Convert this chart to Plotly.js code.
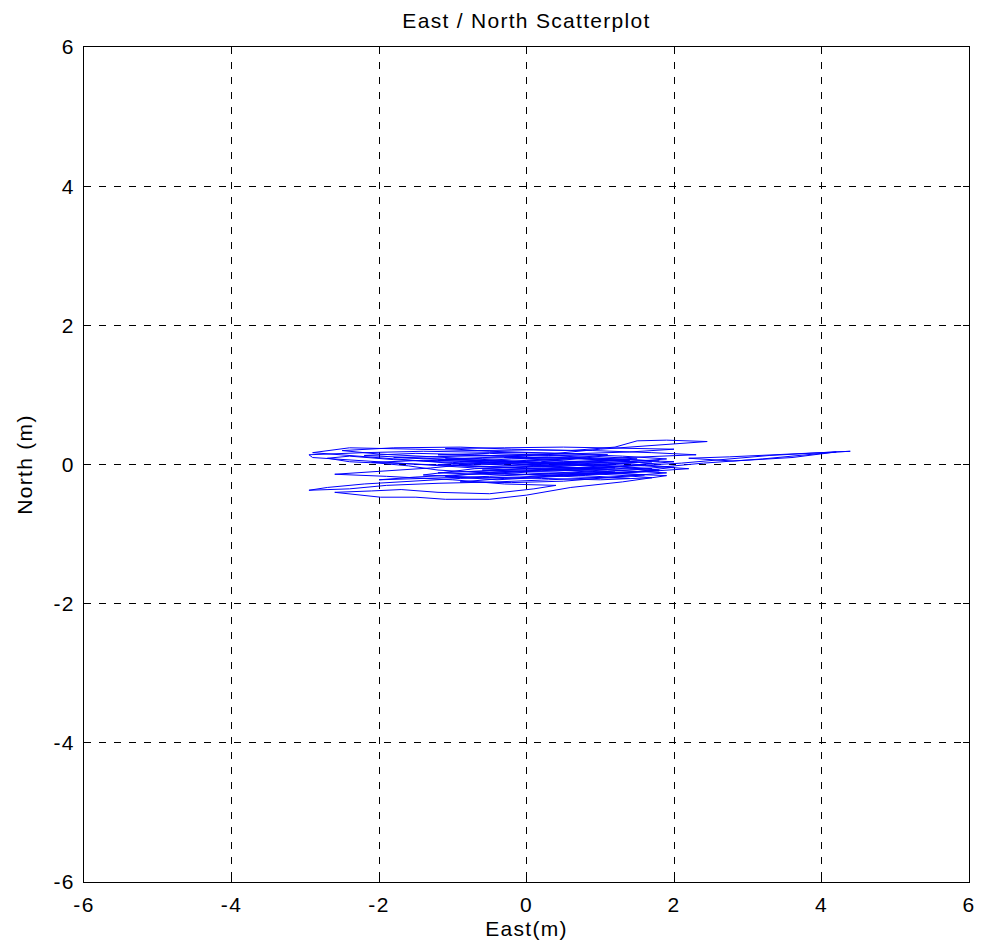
<!DOCTYPE html>
<html>
<head>
<meta charset="utf-8">
<script src="https://cdn.plot.ly/plotly-3.0.1.min.js"></script>
<style>
html,body{margin:0;padding:0;background:#fff;}
#chart text{letter-spacing:1.3px;}
</style>
</head>
<body>
<div id="chart" style="width:981px;height:946px;"></div>
<script>
const east = [0.00,0.55,1.10,0.40,-0.35,-1.20,-0.60,0.30,1.05,1.70,1.20,0.20,-0.70,-1.60,-2.30,-2.90,-2.95,-2.20,-1.40,-0.50,
0.40,1.30,1.90,1.40,0.60,-0.20,-1.00,-1.80,-2.40,-2.70,-2.40,-2.00,-1.60,-1.20,-0.40,0.50,1.30,1.80,1.10,0.20,
-0.60,-1.30,-2.00,-2.50,-1.80,-0.90,-0.20,0.60,1.20,1.50,1.90,2.45,1.80,1.00,0.30,-0.30,0.50,1.40,2.00,1.50,
0.70,-0.10,-0.90,-1.60,-2.20,-2.70,-2.95,-2.40,-1.90,-1.20,-0.40,0.30,1.00,1.60,0.90,0.10,-0.70,-1.50,-2.10,-1.40,
-0.50,0.40,1.30,2.10,2.70,3.30,4.00,4.39,3.50,2.75,2.20,2.80,3.60,4.20,3.20,2.40,1.70,0.90,0.00,-0.80,
-1.50,-2.00,-1.30,-0.50,0.30,1.10,1.70,1.00,0.20,-0.60,-1.40,-2.20,-1.50,-0.70,0.10,0.90,1.60,2.30,1.70,0.90,
0.10,-0.70,-1.50,-2.40,-2.90,-2.20,-1.40,-0.80,-1.30,-2.00,-2.60,-1.90,-1.00,-0.30,0.40,0.10,-0.50,-1.20,-1.70,-2.10,
-2.60,-1.98,-1.50,-1.10,-0.50,0.00,0.60,1.30,1.90,1.20,0.50,-0.20,-1.00,-0.30,0.50,1.30,2.00,1.30,0.60,-0.10,
-0.80,-0.10,0.70,1.40,0.80,0.00,-0.60,0.20,1.00,1.80,1.10,0.30,-0.40,-1.10,-0.40,0.40,1.20,0.50,-0.30,-1.10,
-0.30,0.60,1.40,0.70,0.00,
0.80,1.50,0.90,0.00,-0.90,-1.80,-1.10,-0.20,0.70,1.60,2.20,1.50,0.60,-0.30,-1.20,-0.50,0.40,1.20,1.70,1.00,
0.20,-0.60,-1.40,-0.70,0.20,1.10,1.80,1.10,0.30,-0.50,-1.20,-0.40,0.50,1.40,2.00,1.30,0.50,-0.30,-1.10,-0.50,
0.30,1.10,0.40,-0.40,-1.20,-0.60,0.30,1.10,1.90,1.30,0.50,-0.20,-0.90,-0.30,0.50,1.20,0.60,-0.10,-0.90,-0.20,
0.70,1.50,0.90,0.10,-0.70,0.00,0.80,0.20];
const north = [0.00,-0.03,-0.07,-0.04,0.02,0.06,0.09,0.11,0.06,0.02,-0.04,-0.09,-0.05,0.01,0.06,0.10,0.14,0.17,0.19,0.18,
0.16,0.12,0.08,0.04,0.02,-0.01,0.03,0.07,0.12,0.09,0.04,0.02,-0.02,-0.08,-0.13,-0.16,-0.12,-0.08,-0.02,0.03,
0.07,0.11,0.15,0.20,0.24,0.25,0.22,0.20,0.25,0.34,0.35,0.33,0.28,0.22,0.15,0.10,0.05,0.01,-0.04,-0.10,
-0.14,-0.18,-0.20,-0.24,-0.28,-0.33,-0.37,-0.35,-0.30,-0.27,-0.25,-0.22,-0.19,-0.15,-0.10,-0.06,-0.03,0.00,0.03,0.06,
0.04,0.00,-0.03,0.02,0.08,0.13,0.17,0.19,0.14,0.11,0.09,0.05,0.10,0.18,0.08,0.02,-0.05,-0.08,-0.10,-0.14,
-0.18,-0.22,-0.20,-0.17,-0.13,-0.10,-0.06,-0.01,0.02,0.05,0.09,0.13,0.16,0.14,0.10,0.08,0.11,0.14,0.17,0.20,
0.21,0.20,0.22,0.24,0.17,0.11,0.05,0.00,-0.05,-0.10,-0.14,-0.17,-0.22,-0.28,-0.30,-0.35,-0.42,-0.40,-0.36,-0.38,
-0.40,-0.47,-0.47,-0.50,-0.50,-0.44,-0.33,-0.25,-0.16,-0.13,-0.08,-0.04,-0.01,0.02,0.04,0.07,0.04,-0.02,-0.06,-0.08,
-0.10,-0.14,-0.18,-0.20,-0.16,-0.12,-0.08,-0.05,-0.04,-0.09,-0.13,-0.18,-0.22,-0.17,-0.11,-0.07,-0.05,0.00,0.05,0.08,
0.11,0.09,0.06,0.03,0.00,
0.04,0.08,0.12,0.14,0.12,0.10,0.07,0.05,0.02,-0.02,-0.06,-0.11,-0.13,-0.15,-0.12,-0.09,-0.11,-0.15,-0.19,-0.22,
-0.20,-0.19,-0.15,-0.06,-0.02,0.01,0.05,0.09,0.13,0.16,0.14,0.12,0.15,0.18,0.22,0.23,0.25,0.24,0.23,0.19,
0.17,0.14,0.07,0.03,0.00,-0.03,-0.06,-0.08,-0.12,-0.17,-0.24,-0.26,-0.25,-0.20,-0.16,-0.11,-0.05,0.01,0.04,0.08,
0.10,0.03,-0.01,-0.03,0.01,0.06,0.09,0.04];
const tickVals = [-6,-4,-2,0,2,4,6];
const tickText = ['-6','-4','-2','0','2','4','6'];

const FONT = 'Liberation Sans, Arial, sans-serif';
const axisCommon = {
  range: [-6, 6],
  tickvals: tickVals,
  ticktext: tickText,
  showgrid: true,
  gridcolor: '#000000',
  griddash: '7px,8px',
  gridwidth: 1,
  zeroline: false,
  showline: true,
  linecolor: '#000000',
  linewidth: 1,
  mirror: 'ticks',
  ticks: 'inside',
  ticklen: 6,
  tickcolor: '#000000',
  tickfont: {family: FONT, size: 21, color: '#000'},
  automargin: false
};

const trace = {
  x: east, y: north, type: 'scatter', mode: 'lines',
  line: {color: '#0000ff', width: 1},
  hoverinfo: 'skip'
};

const layout = {
  width: 981, height: 946,
  margin: {l: 84, r: 12, t: 47, b: 64},
  paper_bgcolor: '#ffffff', plot_bgcolor: '#ffffff',
  showlegend: false,
  title: {text: 'East / North Scatterplot', x: 0.5, xref: 'paper', y: 1 - 21/946, yref: 'container', yanchor: 'middle',
    font: {family: FONT, size: 21, color: '#000'}},
  xaxis: Object.assign({}, axisCommon, {
    ticklabelstandoff: 4,
    title: {text: 'East(m)', standoff: 6, font: {family: FONT, size: 21, color: '#000'}}
  }),
  yaxis: Object.assign({}, axisCommon, {
    ticklabelstandoff: 4,
    title: {text: 'North (m)', standoff: 17, font: {family: FONT, size: 21, color: '#000'}}
  })
};

Plotly.newPlot('chart', [trace], layout, {displayModeBar: false, staticPlot: true});
</script>
</body>
</html>
